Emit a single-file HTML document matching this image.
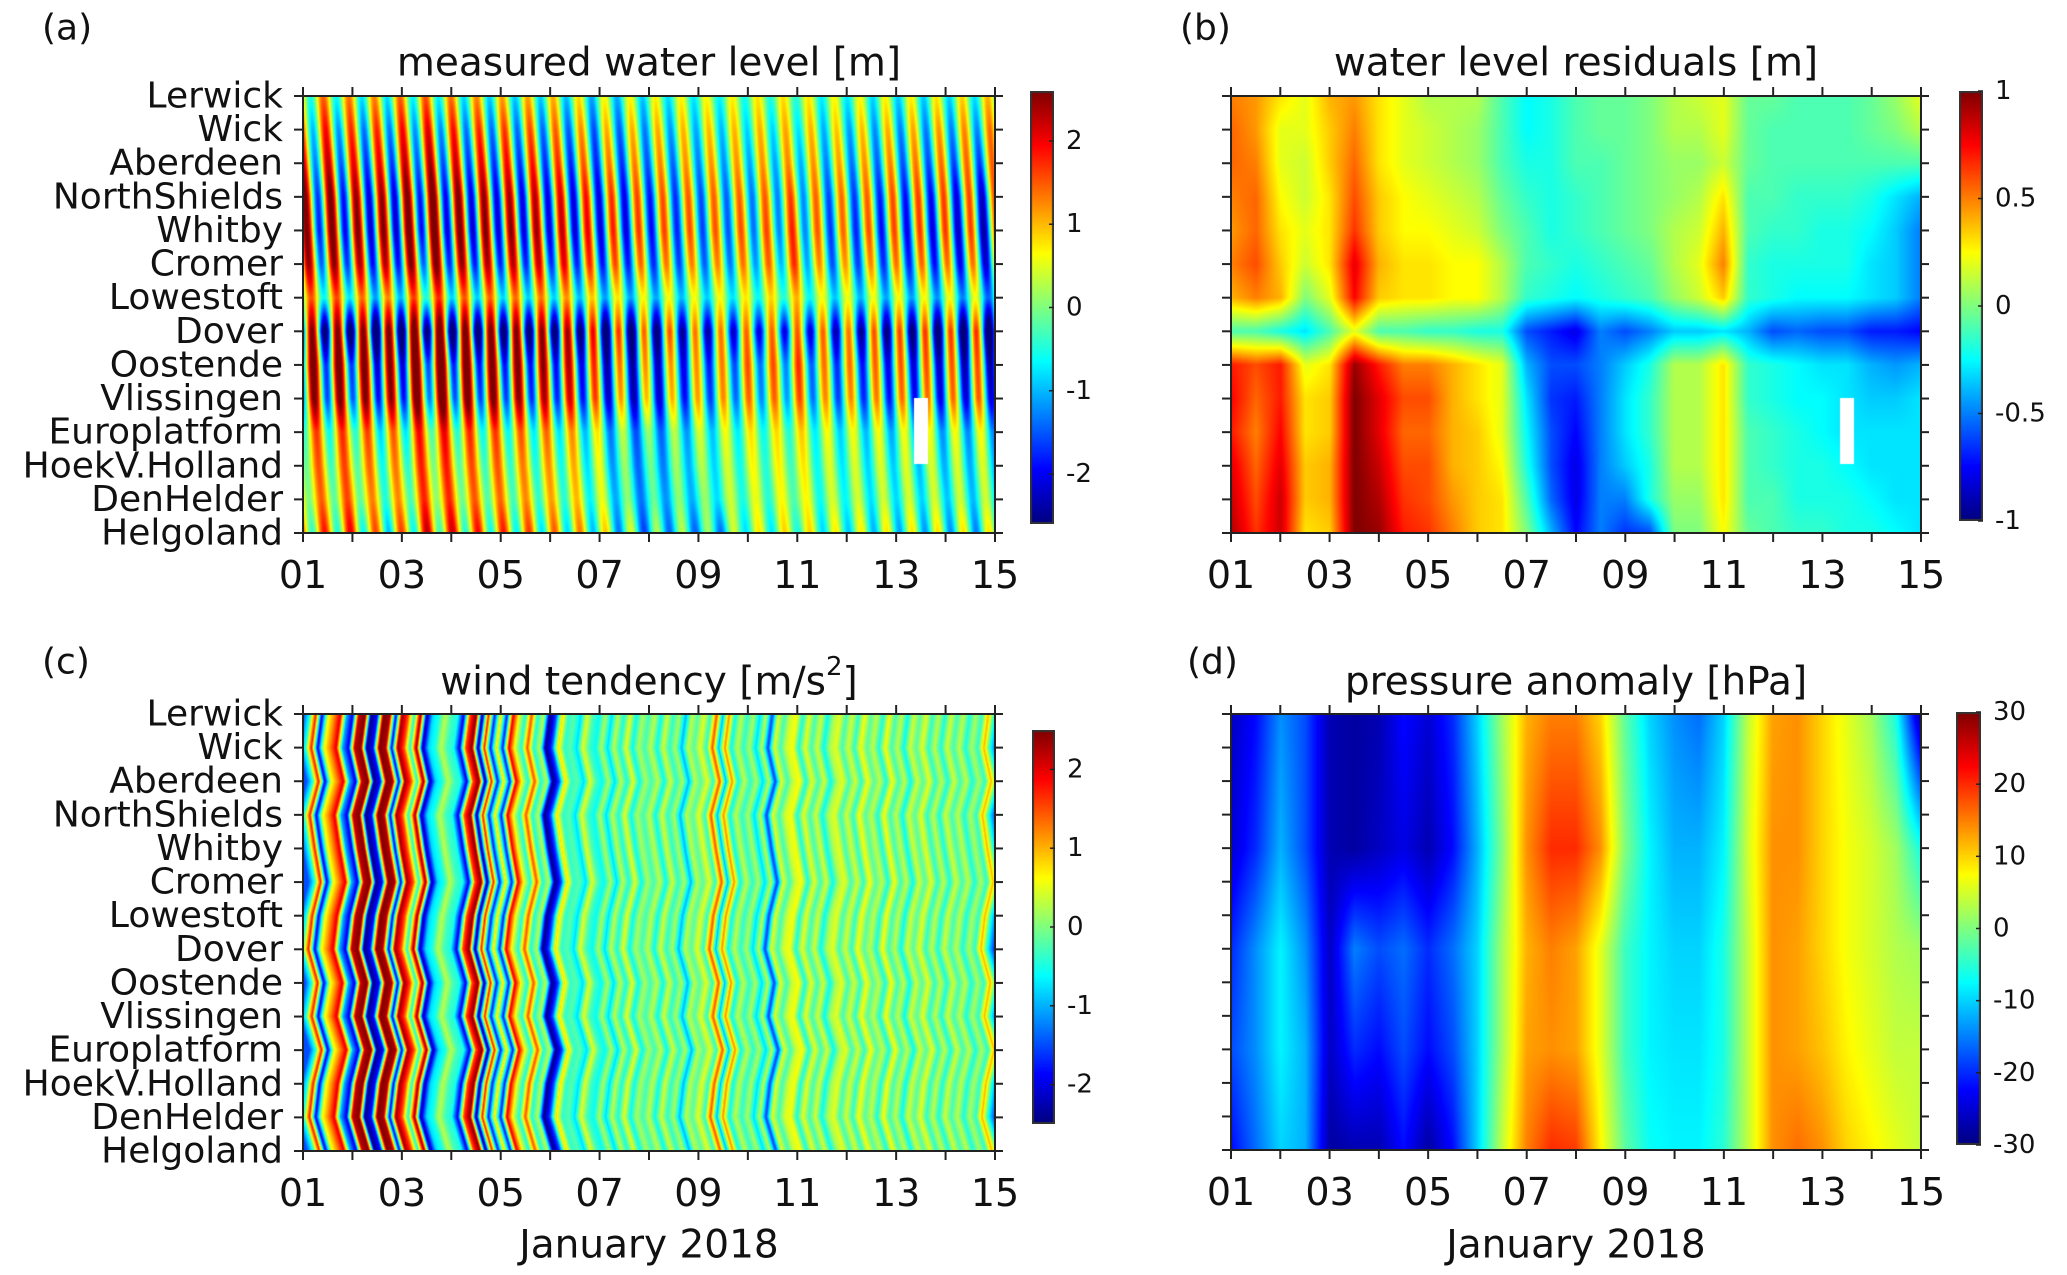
<!DOCTYPE html>
<html><head><meta charset="utf-8">
<style>
html,body{margin:0;padding:0;background:#fff;}
#root{position:relative;width:2067px;height:1275px;overflow:hidden;font-family:"DejaVu Sans","Liberation Sans",sans-serif;}
canvas{position:absolute;}
svg{position:absolute;left:0;top:0;}
</style></head>
<body>
<div id="root">
<canvas id="ca"></canvas>
<canvas id="cb"></canvas>
<canvas id="cc"></canvas>
<canvas id="cd"></canvas>
<canvas id="ka"></canvas>
<canvas id="kb"></canvas>
<canvas id="kc"></canvas>
<canvas id="kd"></canvas>
<svg id="ov" width="2067" height="1275"></svg>
</div>
<script>
// ---------- data ----------
const stations = ["Lerwick","Wick","Aberdeen","NorthShields","Whitby","Cromer","Lowestoft","Dover","Oostende","Vlissingen","Europlatform","HoekV.Holland","DenHelder","Helgoland"];
const xTickLabels = ["01","03","05","07","09","11","13","15"];
const cbTicksA = [2,1,0,-1,-2];
const cbTicksB = [1,0.5,0,-0.5,-1];
const cbTicksC = [2,1,0,-1,-2];
const cbTicksD = [30,20,10,0,-10,-20,-30];
// tide parameters per station (amplitude m, time of high water h)
const tideAmp = [1.0,1.5,1.8,2.2,2.3,2.0,1.1,2.8,2.3,2.1,1.1,0.9,0.8,1.2];
const tideLag = [9.6,10.8,12.0,13.2,14.0,15.0,16.2,16.6,17.2,17.8,18.8,19.8,21.2,22.8];
const springNeap = [1.0,1.05,1.1,1.1,1.05,1.0,0.9,0.8,0.7,0.65,0.65,0.7,0.8,0.85,0.9];
// residuals, half-day columns (t = 0..14 days)
const resid = [
[.5,.45,.3,.2,.4,.45,.3,.2,.1,.1,.1,-.1,-.25,-.2,-.1,-.05,-.05,0,.1,.15,.2,-.05,-.05,-.1,-.1,-.1,-.05,.05,.2],
[.55,.45,.2,.2,.35,.5,.3,.2,.15,.1,.05,-.1,-.25,-.2,-.1,-.05,-.05,0,.1,.1,.2,-.05,-.1,-.1,-.1,-.1,-.05,0,.1],
[.55,.5,.2,.15,.35,.55,.3,.2,.15,.1,.05,-.1,-.2,-.2,-.1,-.1,-.05,0,.05,.05,.15,-.05,-.1,-.1,-.1,-.1,-.1,-.1,-.1],
[.5,.55,.25,.15,.3,.6,.35,.25,.2,.15,.1,-.05,-.15,-.2,-.15,-.1,-.05,0,.05,.1,.3,-.1,-.1,-.15,-.15,-.15,-.2,-.3,-.4],
[.45,.55,.3,.2,.3,.65,.35,.25,.25,.2,.15,0,-.1,-.2,-.15,-.1,-.05,0,.1,.15,.4,-.1,-.15,-.15,-.2,-.2,-.25,-.35,-.5],
[.5,.6,.35,.15,.3,.8,.4,.3,.3,.25,.25,.1,-.1,-.15,-.2,-.15,-.1,-.05,.1,.2,.5,-.15,-.2,-.2,-.2,-.2,-.3,-.35,-.5],
[.4,.5,.4,0,.2,.75,.35,.3,.3,.25,.25,.1,-.15,-.2,-.25,-.2,-.15,-.1,.05,.15,.35,-.15,-.2,-.25,-.25,-.25,-.3,-.35,-.5],
[-.1,-.1,-.2,-.3,-.1,.2,-.1,-.1,-.15,-.15,-.2,-.2,-.6,-.7,-.8,-.5,-.6,-.5,-.35,-.35,-.3,-.4,-.6,-.55,-.6,-.6,-.7,-.7,-.75],
[.7,.6,.7,.2,.3,.95,.7,.5,.5,.4,.3,.2,-.4,-.6,-.6,-.5,-.35,-.2,.1,.1,.3,-.15,-.2,-.25,-.3,-.3,-.4,-.45,-.4],
[.75,.55,.7,.3,.35,1,.8,.6,.6,.4,.3,.2,-.3,-.65,-.7,-.5,-.3,-.15,.1,.1,.3,-.15,-.2,-.25,-.25,-.3,-.35,-.35,-.3],
[.7,.5,.75,.3,.35,1,.8,.55,.55,.4,.35,.2,-.25,-.6,-.75,-.5,-.3,-.15,.1,.1,.3,-.1,-.15,-.2,-.25,-.3,-.3,-.3,-.3],
[.8,.55,.8,.35,.4,1,.85,.6,.6,.4,.35,.25,-.2,-.6,-.8,-.5,-.35,-.2,.1,.1,.3,-.1,-.15,-.2,-.2,-.25,-.3,-.3,-.3],
[.85,.6,.85,.35,.4,1,.9,.65,.6,.45,.35,.3,-.1,-.55,-.8,-.5,-.5,-.2,.05,.05,.3,-.1,-.1,-.2,-.2,-.2,-.25,-.3,-.3],
[.9,.65,.85,.3,.35,1,.95,.7,.65,.5,.35,.3,0,-.4,-.75,-.5,-.65,-.6,0,0,.25,-.05,-.1,-.15,-.15,-.2,-.2,-.25,-.3]
];
// wind tendency profile, 1/8-day columns
const windProfile = [
-1.5,-.5,1.8,-2,.5,1.2,2,-1,-2,
2.2,2.5,-2.5,-1.8,2.5,2.3,-2,2.4,
1.5,-.5,2.4,-2.3,-.8,-.5,.3,-.3,
-.5,-2,1.5,2.5,-2.5,1.8,-1.8,.8,
-1.8,2,.5,-.5,1.5,-.5,.3,-2.5,
-1.5,.8,-.4,-.2,-.8,.5,-.3,-.6,
.2,-.8,.3,-.5,.5,-.6,.2,-.3,
.3,-.6,.4,-.4,.2,-1,.3,-.2,
.5,-.4,1.5,-1,1.2,-.6,.3,-.4,
.2,-.8,.3,-1.6,.5,-.3,.4,.6,
-.5,.5,-.3,.4,-.6,.2,.5,-.3,
.4,-.4,.6,-.2,.3,-.5,.6,-.3,
.3,-.6,.4,-.2,.5,-.4,.3,-.5,
.4,-.3,.3,-.5,.2,-.4,1,-.5];
const windRowShift = [0,.09,-.06,.12,.02,-.1,.07,.15,-.04,.08,-.12,.05,.13,-.07];
// pressure anomaly, half-day columns for key stations
const pressRows = [0,4,7,10,13];
const pressure = [
[-26,-22,-14,-18,-27,-28,-27,-22,-25,-20,-10,2,12,15,15,10,-2,-10,-14,-16,-10,4,13,14,10,6,2,-6,-28],
[-25,-20,-12,-18,-27,-28,-26,-24,-27,-22,-12,0,14,20,20,14,0,-8,-12,-12,-8,5,14,14,10,7,5,2,-6],
[-20,-14,-8,-14,-26,-15,-18,-16,-20,-16,-10,2,12,15,13,6,-4,-8,-10,-10,-6,4,14,13,10,7,5,3,2],
[-18,-14,-8,-12,-26,-20,-22,-18,-22,-18,-10,2,13,14,13,6,-4,-8,-9,-9,-6,4,14,13,11,8,6,4,4],
[-22,-16,-10,-12,-28,-27,-27,-22,-28,-22,-10,4,15,20,19,8,-2,-7,-8,-8,-5,4,14,16,14,10,8,6,4]
];
const gap = [12.37,12.65,9.0,10.95];

// ---------- layout ----------
const P = {
 a:{x:303,y:96,w:692,h:437,cb:{x:1030,y:91,w:24,h:433},vmin:-2.6,vmax:2.6,ticks:cbTicksA,title:"measured water level [m]",tag:"(a)",tagX:42,tagY:28,titleY:63,labels:true,xlab:false},
 b:{x:1231,y:96,w:690,h:437,cb:{x:1959,y:91,w:24,h:430},vmin:-1,vmax:1,ticks:cbTicksB,title:"water level residuals [m]",tag:"(b)",tagX:1180,tagY:28,titleY:63,labels:false,xlab:false},
 c:{x:303,y:714,w:692,h:437,cb:{x:1032,y:730,w:23,h:394},vmin:-2.5,vmax:2.5,ticks:cbTicksC,title:"wind tendency [m/s",tag:"(c)",tagX:42,tagY:662,titleY:682,labels:true,xlab:true},
 d:{x:1231,y:714,w:690,h:436,cb:{x:1956,y:712,w:25,h:433},vmin:-30,vmax:30,ticks:cbTicksD,title:"pressure anomaly [hPa]",tag:"(d)",tagX:1187,tagY:662,titleY:682,labels:false,xlab:true}
};
const NT=14, NR=stations.length-1;

function jet(v){
 v=Math.max(0,Math.min(1,v));
 const f=x=>Math.max(0,Math.min(1,x));
 const r=f(1.5-Math.abs(4*v-3)), g=f(1.5-Math.abs(4*v-2)), b=f(1.5-Math.abs(4*v-1));
 return [r*255|0,g*255|0,b*255|0];
}
function lerpRow(arr,t,dt){
 const u=t/dt, i=Math.max(0,Math.min(arr.length-2,Math.floor(u))), f=u-i;
 return arr[i]*(1-f)+arr[i+1]*Math.min(1,Math.max(0,f));
}
function residAt(t,r){
 const i=Math.min(NR-1,Math.floor(r)), f=r-i;
 return lerpRow(resid[i],t,0.5)*(1-f)+lerpRow(resid[i+1],t,0.5)*f;
}
function tideAt(t,r){
 const i=Math.min(NR-1,Math.floor(r)), f=r-i;
 const amp=tideAmp[i]*(1-f)+tideAmp[i+1]*f;
 const lag=tideLag[i]*(1-f)+tideLag[i+1]*f;
 const sn=lerpRow(springNeap,t,1);
 return amp*sn*Math.cos(2*Math.PI*(t*24-lag)/12.42);
}
function inGap(t,r){return t>=gap[0]&&t<=gap[1]&&r>=gap[2]&&r<=gap[3];}
const fns={
 a:(t,r)=> inGap(t,r)?null: tideAt(t,r)+residAt(t,r),
 b:(t,r)=> inGap(t,r)?null: residAt(t,r),
 c:(t,r)=>{const i=Math.min(NR-1,Math.floor(r)),f=r-i;const s=windRowShift[i]*(1-f)+windRowShift[i+1]*f;return lerpRow(windProfile,Math.max(0,t+s),0.125);},
 d:(t,r)=>{let k=0;while(k<pressRows.length-2&&r>pressRows[k+1])k++;const f=(r-pressRows[k])/(pressRows[k+1]-pressRows[k]);return lerpRow(pressure[k],t,0.5)*(1-f)+lerpRow(pressure[k+1],t,0.5)*f;}
};
function drawHeat(id,p,fn){
 const c=document.getElementById(id);c.width=p.w;c.height=p.h;c.style.left=p.x+'px';c.style.top=p.y+'px';
 const ctx=c.getContext('2d');const im=ctx.createImageData(p.w,p.h);
 for(let y=0;y<p.h;y++){const r=y/(p.h-1)*NR;
  for(let x=0;x<p.w;x++){const t=x/(p.w-1)*NT;const v=fn(t,r);const o=(y*p.w+x)*4;
   if(v===null){im.data[o]=im.data[o+1]=im.data[o+2]=255;}else{const col=jet((v-p.vmin)/(p.vmax-p.vmin));im.data[o]=col[0];im.data[o+1]=col[1];im.data[o+2]=col[2];}
   im.data[o+3]=255;}}
 ctx.putImageData(im,0,0);
}
function drawBar(id,cb){
 const c=document.getElementById(id);c.width=cb.w;c.height=cb.h;c.style.left=cb.x+'px';c.style.top=cb.y+'px';
 const ctx=c.getContext('2d');
 for(let y=0;y<cb.h;y++){const col=jet(1-y/(cb.h-1));ctx.fillStyle=`rgb(${col[0]},${col[1]},${col[2]})`;ctx.fillRect(0,y,cb.w,1);}
 ctx.strokeStyle='#333';ctx.lineWidth=2;ctx.strokeRect(1,1,cb.w-2,cb.h-2);
}
drawHeat('ca',P.a,fns.a);drawHeat('cb',P.b,fns.b);drawHeat('cc',P.c,fns.c);drawHeat('cd',P.d,fns.d);
drawBar('ka',P.a.cb);drawBar('kb',P.b.cb);drawBar('kc',P.c.cb);drawBar('kd',P.d.cb);

const NS='http://www.w3.org/2000/svg';const svg=document.getElementById('ov');
function mk(tag,attrs,txt){const e=document.createElementNS(NS,tag);for(const k in attrs)e.setAttribute(k,attrs[k]);if(txt!==undefined)e.textContent=txt;svg.appendChild(e);return e;}
for(const key of ['a','b','c','d']){
 const p=P[key];
 const box=mk('rect',{x:p.x,y:p.y,width:p.w,height:p.h,fill:'none',stroke:'#222','stroke-width':2});
 
 
 for(let d=0;d<=NT;d++){const x=p.x+d/NT*p.w;
  const t1=mk('line',{x1:x,y1:p.y+p.h,x2:x,y2:p.y+p.h+9,stroke:'#222','stroke-width':2});
  
  
  mk('line',{x1:x,y1:p.y,x2:x,y2:p.y-9,stroke:'#222','stroke-width':2});}
 xTickLabels.forEach((lb,i)=>{const x=p.x+(i*2)/NT*p.w;
  const tl=mk('text',{x:x,y:p.y+p.h+42,'text-anchor':'middle','dominant-baseline':'central','font-size':38,fill:'#111'},lb);
  
  });
 for(let r=0;r<=NR;r++){const y=p.y+r/NR*p.h;
  const yt=mk('line',{x1:p.x-9,y1:y,x2:p.x,y2:y,stroke:'#222','stroke-width':2});
  
  
  mk('line',{x1:p.x+p.w,y1:y,x2:p.x+p.w+8,y2:y,stroke:'#222','stroke-width':2});
  if(p.labels){const sl=mk('text',{x:p.x-20,y:y,'text-anchor':'end','dominant-baseline':'central','font-size':36,fill:'#111'},stations[r]);
   
   }}
 const tt=mk('text',{x:p.x+p.w/2,y:p.titleY,'text-anchor':'middle','dominant-baseline':'central','font-size':39,fill:'#111'},p.title);
 
 
 if(key==='c'){const s1=document.createElementNS(NS,'tspan');s1.setAttribute('font-size',26);s1.setAttribute('dy',-15);s1.textContent='2';tt.appendChild(s1);
  const s2=document.createElementNS(NS,'tspan');s2.setAttribute('dy',15);s2.textContent=']';tt.appendChild(s2);}
 const tg=mk('text',{x:p.tagX,y:p.tagY,'dominant-baseline':'central','font-size':36,fill:'#111'},p.tag);
 
 
 if(p.xlab){const xl=mk('text',{x:p.x+p.w/2,y:1245,'text-anchor':'middle','dominant-baseline':'central','font-size':39,fill:'#111'},'January 2018');
  
  }
 const cb=p.cb;
 p.ticks.forEach(v=>{const y=cb.y+(p.vmax-v)/(p.vmax-p.vmin)*cb.h;
  mk('line',{x1:cb.x+cb.w-5,y1:y,x2:cb.x+cb.w,y2:y,stroke:'#222','stroke-width':1.5});
  const cl=mk('text',{x:cb.x+cb.w+12,y:y,'dominant-baseline':'central','font-size':26,fill:'#111'},String(v));
  
  });
}
</script>
</body></html>
